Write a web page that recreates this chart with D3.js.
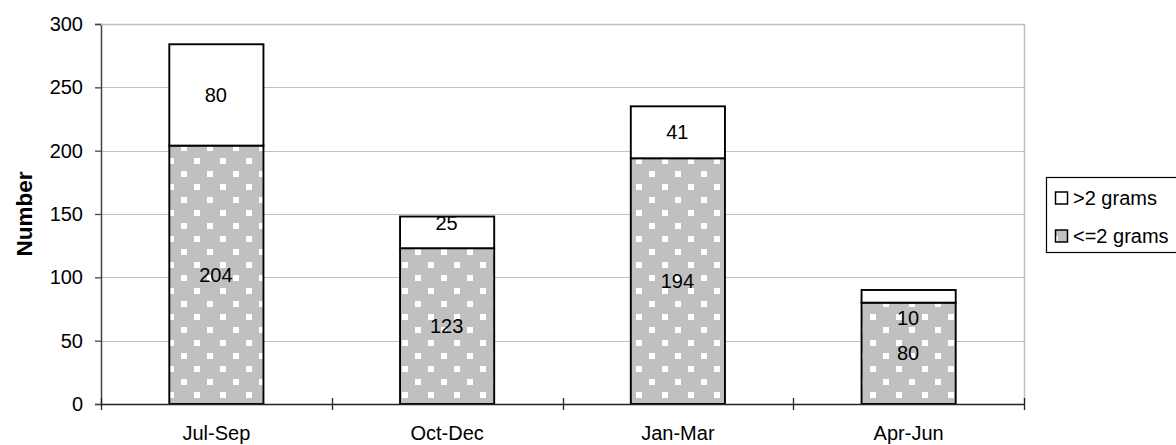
<!DOCTYPE html>
<html>
<head>
<meta charset="utf-8">
<script src="https://cdn.jsdelivr.net/npm/d3@7"></script>
<style>
  html, body { margin: 0; padding: 0; background: #fff; }
  svg { display: block; font-family: "Liberation Sans", Arial, sans-serif; }
</style>
</head>
<body>
<svg id="chart" width="1176" height="445"></svg>
<script>
// Quarterly counts, split by weight class
const categories = ["Jul-Sep", "Oct-Dec", "Jan-Mar", "Apr-Jun"];
const lightCounts = [204, 123, 194, 80];   // <=2 grams
const heavyCounts = [80, 25, 41, 10];      // >2 grams
const seriesNames = [">2 grams", "<=2 grams"];
const yTicks = [0, 50, 100, 150, 200, 250, 300];

const svg = d3.select("#chart");
const plot = { left: 101, right: 1024, top: 24, bottom: 404 };

const x = d3.scaleBand().domain(categories).range([plot.left, plot.right]).padding(0);
const y = d3.scaleLinear().domain([0, 300]).range([plot.bottom, plot.top]);
const barW = x.bandwidth() * 0.408;

// dotted fill used for the lower segments
const defs = svg.append("defs");
const pat = defs.append("pattern")
  .attr("id", "dots")
  .attr("patternUnits", "userSpaceOnUse")
  .attr("x", 181).attr("y", 197)
  .attr("width", 26).attr("height", 26);
pat.append("rect").attr("width", 26).attr("height", 26).attr("fill", "#c0c0c0");
pat.append("rect").attr("x", 0).attr("y", 0).attr("width", 6).attr("height", 6).attr("fill", "#fff");
pat.append("rect").attr("x", 13).attr("y", 13).attr("width", 6).attr("height", 6).attr("fill", "#fff");

// gridlines
svg.append("g").selectAll("line")
  .data(yTicks.filter(v => v > 0))
  .join("line")
  .attr("x1", plot.left).attr("x2", plot.right)
  .attr("y1", d => Math.round(y(d)) + 0.5).attr("y2", d => Math.round(y(d)) + 0.5)
  .attr("stroke", "#c0c0c0").attr("stroke-width", 1.2);

// right border of plot area
svg.append("line")
  .attr("x1", plot.right + 0.5).attr("x2", plot.right + 0.5)
  .attr("y1", y(300)).attr("y2", plot.bottom)
  .attr("stroke", "#c0c0c0").attr("stroke-width", 1.5);

// stacked data
const stackData = categories.map((c, i) => ({ cat: c, light: lightCounts[i], heavy: heavyCounts[i] }));
const stack = d3.stack().keys(["light", "heavy"])(stackData);
const fills = { light: "url(#dots)", heavy: "#ffffff" };

const bars = svg.append("g");
stack.forEach(layer => {
  bars.selectAll(null)
    .data(layer)
    .join("rect")
    .attr("x", d => x(d.data.cat) + (x.bandwidth() - barW) / 2)
    .attr("y", d => y(d[1]))
    .attr("width", barW)
    .attr("height", d => y(d[0]) - y(d[1]))
    .attr("fill", fills[layer.key])
    .attr("stroke", "#000")
    .attr("stroke-width", 1.9);
});

// value labels; small top segments have their labels shifted to stay readable
const labelShift = { "Oct-Dec": -9, "Apr-Jun": 22 };
stack.forEach(layer => {
  svg.append("g").selectAll("text")
    .data(layer)
    .join("text")
    .attr("x", d => x(d.data.cat) + x.bandwidth() / 2 - 0.5)
    .attr("y", d => (y(d[0]) + y(d[1])) / 2 + (layer.key === "heavy" ? (labelShift[d.data.cat] || 0) : 0))
    .attr("text-anchor", "middle")
    .attr("dominant-baseline", "central")
    .attr("font-size", 20)
    .attr("fill", "#000")
    .text(d => d.data[layer.key]);
});

// y axis
const yAxis = svg.append("g")
  .attr("transform", `translate(${plot.left},0)`)
  .call(d3.axisLeft(y).tickValues(yTicks).tickSize(6).tickPadding(12));
yAxis.select(".domain").attr("stroke", "#444").attr("stroke-width", 1.5);
yAxis.selectAll(".tick line").attr("stroke", "#444").attr("stroke-width", 1.3);
yAxis.selectAll(".tick text").attr("font-size", 20).attr("fill", "#000")
  .attr("font-family", "'Liberation Sans', Arial, sans-serif");

// top border of plot area (drawn over the 300 tick)
svg.append("line")
  .attr("x1", plot.left).attr("x2", plot.right + 1)
  .attr("y1", y(300) + 0.5).attr("y2", y(300) + 0.5)
  .attr("stroke", "#c0c0c0").attr("stroke-width", 1.5);

// x axis line and category boundary ticks
svg.append("line")
  .attr("x1", plot.left).attr("x2", plot.right)
  .attr("y1", plot.bottom + 0.5).attr("y2", plot.bottom + 0.5)
  .attr("stroke", "#222").attr("stroke-width", 1.5);
const bounds = categories.map(c => x(c)).concat([x.range()[1]]);
svg.append("g").selectAll("line")
  .data(bounds)
  .join("line")
  .attr("x1", d => Math.round(d) + 0.5).attr("x2", d => Math.round(d) + 0.5)
  .attr("y1", plot.bottom - 6).attr("y2", plot.bottom + 6)
  .attr("stroke", "#222").attr("stroke-width", 1.3);
svg.append("g").selectAll("text")
  .data(categories)
  .join("text")
  .attr("x", d => x(d) + x.bandwidth() / 2)
  .attr("y", 440)
  .attr("text-anchor", "middle")
  .attr("font-size", 20)
  .text(d => d);

// y axis title
svg.append("text")
  .attr("transform", "translate(32,214) rotate(-90)")
  .attr("text-anchor", "middle")
  .attr("font-size", 22.5)
  .attr("font-weight", "bold")
  .text("Number");

// legend
const legend = svg.append("g");
legend.append("rect")
  .attr("x", 1046.5).attr("y", 177.5)
  .attr("width", 160).attr("height", 75)
  .attr("fill", "#fff").attr("stroke", "#000").attr("stroke-width", 1.2);
const legendFills = ["#ffffff", "url(#dots)"];
const legendY = [198, 236];
seriesNames.forEach((name, i) => {
  legend.append("rect")
    .attr("x", 1055.5).attr("y", legendY[i] - 6)
    .attr("width", 12).attr("height", 12)
    .attr("fill", legendFills[i])
    .attr("stroke", "#000").attr("stroke-width", 1.5);
  legend.append("text")
    .attr("x", 1073).attr("y", legendY[i])
    .attr("dominant-baseline", "central")
    .attr("font-size", 20)
    .text(name);
});
</script>
</body>
</html>
